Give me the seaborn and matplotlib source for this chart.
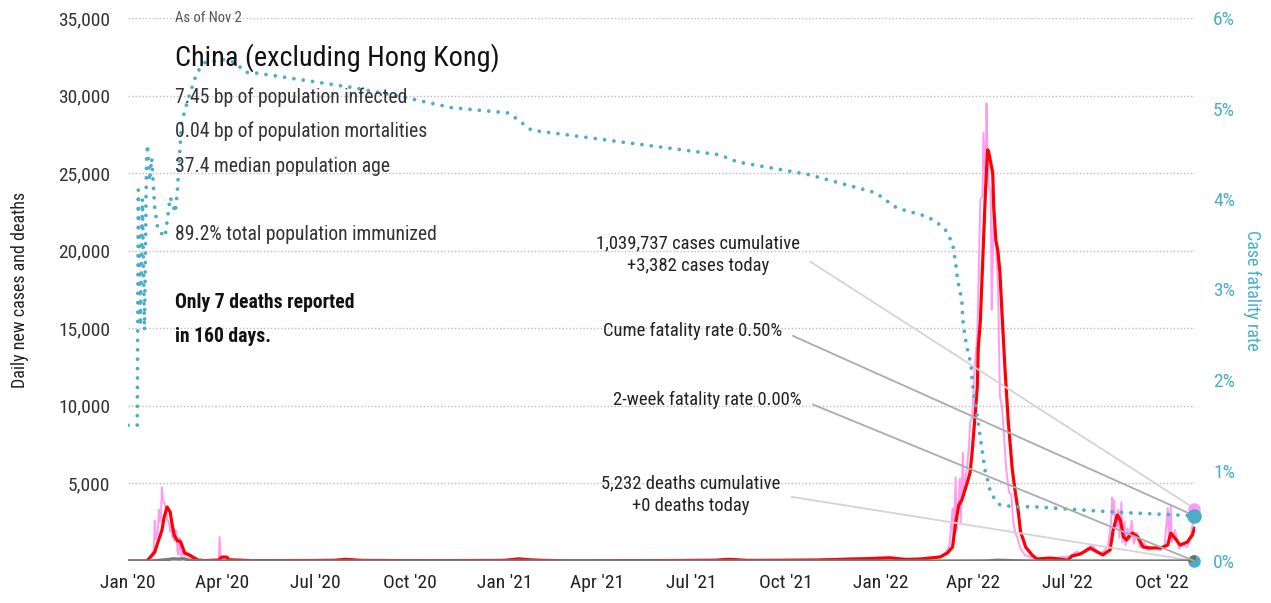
import matplotlib
matplotlib.use("Agg")
import matplotlib.pyplot as plt
import matplotlib.ticker as mticker
from matplotlib import font_manager
import seaborn as sns
import pandas as pd

# ---- values ----
daily_dates = ["2020-01-01", "2020-01-19", "2020-01-21", "2020-01-23", "2020-01-25", "2020-01-26", "2020-01-27",
               "2020-01-28", "2020-01-29", "2020-01-30", "2020-01-31", "2020-02-01", "2020-02-02", "2020-02-03",
               "2020-02-04", "2020-02-05", "2020-02-06", "2020-02-07", "2020-02-08", "2020-02-09", "2020-02-10",
               "2020-02-11", "2020-02-12", "2020-02-13", "2020-02-14", "2020-02-15", "2020-02-16", "2020-02-17",
               "2020-02-18", "2020-02-19", "2020-02-20", "2020-02-21", "2020-02-22", "2020-02-23", "2020-02-24",
               "2020-02-25", "2020-02-26", "2020-02-27", "2020-02-28", "2020-03-02", "2020-03-06", "2020-03-12",
               "2020-03-20", "2020-03-29", "2020-03-30", "2020-03-31", "2020-04-10", "2020-04-20", "2020-06-15",
               "2020-07-28", "2020-08-10", "2020-10-15", "2020-12-25", "2021-01-12", "2021-01-20", "2021-02-15",
               "2021-05-20", "2021-08-05", "2021-08-25", "2021-11-05", "2021-12-20", "2022-01-10", "2022-02-01",
               "2022-02-20", "2022-03-01", "2022-03-06", "2022-03-09", "2022-03-12", "2022-03-13", "2022-03-15",
               "2022-03-16", "2022-03-18", "2022-03-19", "2022-03-20", "2022-03-22", "2022-03-23", "2022-03-24",
               "2022-03-26", "2022-03-28", "2022-03-29", "2022-03-31", "2022-04-02", "2022-04-05", "2022-04-08",
               "2022-04-10", "2022-04-11", "2022-04-13", "2022-04-14", "2022-04-15", "2022-04-16", "2022-04-18",
               "2022-04-19", "2022-04-20", "2022-04-21", "2022-04-22", "2022-04-23", "2022-04-25", "2022-04-27",
               "2022-04-29", "2022-05-01", "2022-05-03", "2022-05-06", "2022-05-08", "2022-05-10", "2022-05-12",
               "2022-05-14", "2022-05-17", "2022-05-21", "2022-05-28", "2022-06-05", "2022-06-20", "2022-07-04",
               "2022-07-10", "2022-07-16", "2022-07-22", "2022-07-26", "2022-08-01", "2022-08-06", "2022-08-10",
               "2022-08-13", "2022-08-14", "2022-08-15", "2022-08-16", "2022-08-17", "2022-08-19", "2022-08-20",
               "2022-08-21", "2022-08-23", "2022-08-24", "2022-08-26", "2022-08-27", "2022-08-29", "2022-08-31",
               "2022-09-02", "2022-09-04", "2022-09-07", "2022-09-10", "2022-09-14", "2022-09-18", "2022-09-24",
               "2022-09-30", "2022-10-04", "2022-10-07", "2022-10-08", "2022-10-10", "2022-10-11", "2022-10-14",
               "2022-10-18", "2022-10-22", "2022-10-26", "2022-10-29", "2022-11-01", "2022-11-02"]
daily_cases = [0, 0, 100, 300, 600, 700, 2600,
               1400, 1700, 2000, 3300, 2500, 3000, 4750,
               3900, 3800, 3600, 3100, 2700, 2600, 2400,
               1900, 2200, 1500, 2200, 1300, 2000, 1800,
               700, 400, 1500, 700, 300, 650, 450,
               500, 350, 400, 300, 200, 100, 20,
               40, 30, 1550, 60, 80, 20, 40,
               120, 60, 30, 40, 180, 140, 20,
               20, 130, 40, 100, 200, 250, 100,
               200, 300, 600, 1000, 3400, 1500, 5400,
               2000, 4000, 5300, 2500, 7000, 4500, 5200,
               6000, 7500, 8900, 9300, 12000, 14500, 23300,
               23500, 27600, 24500, 29500, 26000, 24200, 23900,
               16200, 18900, 23000, 21500, 20500, 18000, 10600,
               10000, 8000, 6000, 4400, 4300, 2500, 1800,
               1500, 800, 400, 200, 100, 200, 300,
               600, 500, 900, 1000, 500, 600, 1000,
               2500, 4100, 3000, 3900, 2400, 2200, 3300,
               1500, 3800, 1200, 2500, 1000, 2100, 1400,
               2600, 1100, 1800, 900, 1200, 700, 900,
               700, 1000, 3400, 1500, 3500, 1200, 2000,
               800, 1100, 900, 1500, 2700, 3382]

avg_dates = ["2020-01-01", "2020-01-19", "2020-01-22", "2020-01-27", "2020-01-30", "2020-02-03", "2020-02-05",
             "2020-02-08", "2020-02-11", "2020-02-13", "2020-02-15", "2020-02-18", "2020-02-21", "2020-02-23",
             "2020-02-25", "2020-03-01", "2020-03-04", "2020-03-09", "2020-03-16", "2020-03-29", "2020-04-01",
             "2020-04-06", "2020-04-08", "2020-04-17", "2020-05-01", "2020-07-20", "2020-07-30", "2020-08-15",
             "2020-10-15", "2021-01-01", "2021-01-15", "2021-01-28", "2021-03-01", "2021-07-25", "2021-08-06",
             "2021-08-25", "2021-11-01", "2021-11-10", "2021-12-20", "2022-01-10", "2022-01-25", "2022-02-09",
             "2022-02-28", "2022-03-07", "2022-03-12", "2022-03-15", "2022-03-18", "2022-03-21", "2022-03-26",
             "2022-03-29", "2022-03-31", "2022-04-03", "2022-04-05", "2022-04-06", "2022-04-08", "2022-04-13",
             "2022-04-15", "2022-04-16", "2022-04-20", "2022-04-21", "2022-04-23", "2022-04-25", "2022-04-27",
             "2022-04-29", "2022-05-02", "2022-05-05", "2022-05-09", "2022-05-12", "2022-05-15", "2022-05-17",
             "2022-05-22", "2022-05-28", "2022-06-02", "2022-06-15", "2022-07-02", "2022-07-06", "2022-07-14",
             "2022-07-24", "2022-07-27", "2022-08-05", "2022-08-09", "2022-08-12", "2022-08-15", "2022-08-19",
             "2022-08-22", "2022-08-25", "2022-08-28", "2022-08-30", "2022-09-03", "2022-09-08", "2022-09-13",
             "2022-09-20", "2022-09-30", "2022-10-07", "2022-10-10", "2022-10-14", "2022-10-19", "2022-10-26",
             "2022-10-31", "2022-11-02"]
avg_cases = [0, 0, 190, 580, 1200, 2000, 2800,
             3480, 3150, 2300, 1650, 1300, 1250, 900,
             520, 380, 250, 60, 30, 60, 250,
             250, 80, 60, 20, 40, 110, 40,
             20, 40, 130, 60, 10, 40, 110,
             40, 60, 80, 150, 200, 100, 130,
             260, 520, 900, 2450, 3600, 3930, 5000,
             5700, 7000, 9500, 11200, 13800, 15500, 23900,
             26500, 26400, 25000, 22800, 20700, 20000, 18600,
             16000, 12300, 9100, 5900, 4400, 3100, 1900,
             900, 400, 130, 190, 60, 320, 450,
             840, 710, 390, 580, 710, 2000, 2970,
             2640, 1550, 1350, 1550, 1800, 1550, 900,
             840, 840, 1030, 1800, 1480, 1030, 1220,
             1680, 2130]

death_dates = ["2020-01-01", "2020-01-22", "2020-02-01", "2020-02-08", "2020-02-14", "2020-02-20", "2020-02-24",
               "2020-03-01", "2020-03-10", "2020-03-20", "2020-04-01", "2022-03-20", "2022-04-15", "2022-04-25",
               "2022-05-10", "2022-06-01", "2022-11-02"]
daily_deaths = [0, 0, 45, 90, 140, 120, 150,
                40, 20, 5, 2, 0, 10, 50,
                20, 0, 0]

cfr_dates = ["2020-01-01", "2020-01-10", "2020-01-11", "2020-01-13", "2020-01-15", "2020-01-17", "2020-01-19",
             "2020-01-20", "2020-01-22", "2020-01-24", "2020-01-27", "2020-01-30", "2020-02-06", "2020-02-11",
             "2020-02-16", "2020-02-18", "2020-02-22", "2020-02-28", "2020-03-08", "2020-03-16", "2020-04-04",
             "2020-04-14", "2020-04-24", "2020-05-06", "2020-08-07", "2020-09-27", "2020-11-10", "2021-01-05",
             "2021-01-27", "2021-07-28", "2021-08-15", "2021-10-23", "2021-12-27", "2022-01-17", "2022-02-11",
             "2022-02-23", "2022-03-05", "2022-03-12", "2022-03-15", "2022-03-17", "2022-03-21", "2022-03-22",
             "2022-03-24", "2022-03-27", "2022-03-30", "2022-03-31", "2022-04-02", "2022-04-05", "2022-04-08",
             "2022-04-11", "2022-04-13", "2022-04-15", "2022-04-18", "2022-04-23", "2022-04-27", "2022-05-10",
             "2022-05-29", "2022-08-03", "2022-09-04", "2022-11-02"]
cfr_pct = [1.50, 1.50, 4.10, 2.60, 4.00, 2.55, 4.45,
           4.60, 4.20, 4.45, 3.90, 3.66, 3.58, 4.02,
           3.85, 4.10, 4.84, 5.09, 5.40, 5.51, 5.54,
           5.51, 5.40, 5.39, 5.23, 5.12, 5.01, 4.95,
           4.76, 4.49, 4.41, 4.27, 4.07, 3.90, 3.82,
           3.76, 3.66, 3.51, 3.29, 3.10, 2.88, 2.66,
           2.48, 2.31, 2.17, 2.00, 1.81, 1.59, 1.36,
           1.12, 0.97, 0.90, 0.75, 0.67, 0.62, 0.60,
           0.60, 0.55, 0.53, 0.50]

tick_dates = ["2020-01-01", "2020-04-01", "2020-07-01", "2020-10-01", "2021-01-01", "2021-04-01",
              "2021-07-01", "2021-10-01", "2022-01-01", "2022-04-01", "2022-07-01", "2022-10-01"]
tick_labels = ["Jan '20", "Apr '20", "Jul '20", "Oct '20", "Jan '21", "Apr '21",
               "Jul '21", "Oct '21", "Jan '22", "Apr '22", "Jul '22", "Oct '22"]

last_date = "2022-11-02"
cases_today = 3382
deaths_today = 0
cume_cfr = 0.0050
week2_cfr = 0.0

stats_lines = ["7.45 bp of population infected", "0.04 bp of population mortalities",
               "37.4 median population age"]
immunized_line = "89.2% total population immunized"

PINK = "#ff9cf2"
RED = "#ff0000"
TEAL = "#4aaec8"
GREY = "#7a7a7a"


def pick_font():
    entries = font_manager.fontManager.ttflist
    names = {f.name for f in entries}
    for c in ["Roboto Condensed", "Liberation Sans Narrow", "Open Sans Condensed", "Noto Sans Condensed"]:
        if c in names:
            return c, "normal"
    for fam in ["Roboto", "Noto Sans", "Open Sans", "DejaVu Sans"]:
        if any(f.name == fam and "condensed" in str(f.stretch) for f in entries):
            return fam, "condensed"
    return "DejaVu Sans", "normal"


sns.set_theme(style="white")
font, stretch = pick_font()
plt.rcParams["font.family"] = [font, "DejaVu Sans"]
plt.rcParams["font.stretch"] = stretch

W, H = 1271, 603
fig = plt.figure(figsize=(W / 100, H / 100), dpi=100)
ax = fig.add_axes([128 / W, 42 / H, 1067 / W, 543 / H])
ax2 = ax.twinx()

dd = pd.DataFrame({"date": pd.to_datetime(daily_dates), "v": daily_cases})
da = pd.DataFrame({"date": pd.to_datetime(avg_dates), "v": avg_cases})
dz = pd.DataFrame({"date": pd.to_datetime(death_dates), "v": daily_deaths})
dc = pd.DataFrame({"date": pd.to_datetime(cfr_dates), "v": [p / 100 for p in cfr_pct]})

for y in range(5000, 35001, 5000):
    ax.axhline(y, color="#bdbdbd", lw=1, ls=(0, (1, 1.5)), zorder=0)

sns.lineplot(data=dd, x="date", y="v", ax=ax, color=PINK, lw=1.4, zorder=2)
sns.lineplot(data=da, x="date", y="v", ax=ax, color=RED, lw=2.3, zorder=3)
sns.lineplot(data=dz, x="date", y="v", ax=ax, color=GREY, lw=2.4, zorder=4)
sns.lineplot(data=dc, x="date", y="v", ax=ax2, color=TEAL, lw=2.7,
             linestyle=(0, (0.01, 2.5)), dash_capstyle="round", zorder=3)

x0, x1 = pd.Timestamp("2020-01-01"), pd.Timestamp(last_date) + pd.Timedelta(hours=12)
ax.set_xlim(x0, x1)
ax.set_ylim(0, 35000)
ax2.set_ylim(0, 0.06)

ax.set_xticks(pd.to_datetime(tick_dates))
ax.set_xticklabels(tick_labels)
ax.set_yticks(range(5000, 35001, 5000))
ax.yaxis.set_major_formatter(mticker.StrMethodFormatter("{x:,.0f}"))
ax2.set_yticks([i / 100 for i in range(0, 7)])
ax2.yaxis.set_major_formatter(mticker.PercentFormatter(1.0, decimals=0))
ax.tick_params(axis="x", length=0, pad=9, labelsize=14, labelcolor="#222222")
ax.tick_params(axis="y", length=0, pad=13, labelsize=14, labelcolor="#333333")
ax2.tick_params(axis="y", length=0, pad=13, labelsize=14, labelcolor=TEAL)
ax.set_xlabel("")
ax.set_ylabel("")
ax2.set_ylabel("")
for a in (ax, ax2):
    for s in a.spines.values():
        s.set_visible(False)

fig.text(20 / W, 1 - 290 / H, "Daily new cases and deaths", rotation=90, ha="center", va="center",
         fontsize=13, color="#222222")
fig.text(1252 / W, 1 - 290 / H, "Case fatality rate", rotation=270, ha="center", va="center",
         fontsize=13, color=TEAL)

# end-of-series markers (zero-valued ones share the bottom edge)
end = pd.Timestamp(last_date)
ax.plot([end], [0], "o", color=TEAL, ms=8, clip_on=False, zorder=5)
ax.plot([end], [deaths_today], "o", color="#6e6e6e", ms=8, zorder=6)
ax2.plot([end], [cases_today / 35000 * 0.06], "o", color=PINK, ms=8, clip_on=False, zorder=6)
ax2.plot([end], [cume_cfr], "o", color=TEAL, ms=9.5, clip_on=False, zorder=7)

# header text
fig.text(175 / W, 1 - 18 / H, "As of Nov 2", fontsize=10.5, color="#555555", va="center")
fig.text(175 / W, 1 - 58 / H, "China (excluding Hong Kong)", fontsize=20.3, color="#111111", va="center")
for i, line in enumerate(stats_lines):
    fig.text(175 / W, 1 - (97 + 34.5 * i) / H, line, fontsize=14.1, color="#333333", va="center")
fig.text(175 / W, 1 - 235 / H, immunized_line, fontsize=14.1, color="#333333", va="center")
fig.text(175 / W, 1 - 303 / H, "Only 7 deaths reported", fontsize=14.1, color="#111111",
         fontweight="bold", va="center")
fig.text(175 / W, 1 - 337 / H, "in 160 days.", fontsize=14.1, color="#111111",
         fontweight="bold", va="center")

# callouts
callouts = [
    (ax, cases_today, f"1,039,737 cases cumulative\n+{cases_today:,} cases today", 800, 255, "#d4d4d4"),
    (ax2, cume_cfr, f"Cume fatality rate {cume_cfr:.2%}", 782, 331, "#ababab"),
    (ax2, week2_cfr, f"2-week fatality rate {week2_cfr:.2%}", 802, 400, "#ababab"),
    (ax, deaths_today, f"5,232 deaths cumulative\n+{deaths_today} deaths today", 780, 495, "#d4d4d4"),
]
for a, val, txt, tx, ty, col in callouts:
    a.annotate(txt, xy=(end, val), xycoords="data", xytext=(tx, H - ty), textcoords="figure pixels",
               ha="right", va="center", multialignment="center", fontsize=13.4, color="#222222",
               linespacing=1.35, annotation_clip=False,
               arrowprops=dict(arrowstyle="-", color=col, lw=1.3, shrinkA=6, shrinkB=0, relpos=(1, 0.5)))

fig.savefig("out.png", dpi=100)
